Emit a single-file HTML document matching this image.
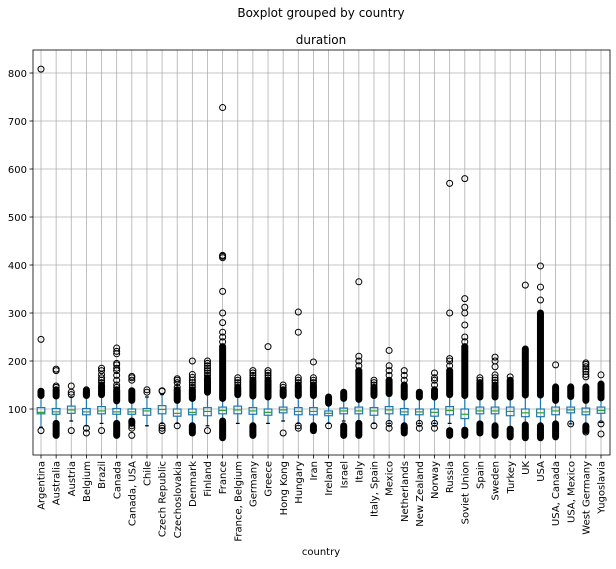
<!DOCTYPE html>
<html><head><meta charset="utf-8"><style>
body{margin:0;background:#fff;}
svg text{font-family:"DejaVu Sans","Liberation Sans",sans-serif;fill:#000;}
</style></head><body>
<svg id="chart" width="616" height="564" xmlns="http://www.w3.org/2000/svg">
<rect width="616" height="564" fill="#fff"/>
<text x="321" y="17" font-size="12" text-anchor="middle">Boxplot grouped by country</text>
<text x="321" y="44" font-size="12" text-anchor="middle">duration</text>
<text x="321" y="555" font-size="10" text-anchor="middle">country</text>
<g id="grid"></g><g id="marks"></g><g id="axes"></g>
</svg>
<script>
const categories=["Argentina","Australia","Austria","Belgium","Brazil","Canada","Canada, USA","Chile","Czech Republic","Czechoslovakia","Denmark","Finland","France","France, Belgium","Germany","Greece","Hong Kong","Hungary","Iran","Ireland","Israel","Italy","Italy, Spain","Mexico","Netherlands","New Zealand","Norway","Russia","Soviet Union","Spain","Sweden","Turkey","UK","USA","USA, Canada","USA, Mexico","West Germany","Yugoslavia"];
const q1 =[90,89,91,88,90,89,89,87,90,85,88,86,90,90,89,87,92,88,88,86,90,90,87,90,88,88,85,88,80,90,90,86,84,84,88,92,88,91];
const med=[93,94,98,94,96,94,94,96,99,91,93,95,97,98,96,93,98,95,95,91,96,96,96,98,94,94,93,97,89,96,96,95,92,92,96,98,94,97];
const q3 =[103,101,106,101,105,101,100,101,107,100,100,103,104,106,103,100,104,103,103,96,102,104,103,105,101,100,100,105,100,104,104,104,100,100,104,104,102,104];
const wlo=[62,70,75,65,70,72,75,65,70,70,70,65,75,70,70,70,75,70,70,70,75,75,70,70,70,70,70,70,60,72,70,62,68,68,72,69,68,72];
const whi=[127,125,125,125,128,115,115,125,130,115,120,130,120,125,125,120,125,125,125,110,120,118,125,130,120,120,120,128,125,122,122,122,126,126,116,124,116,120];
const fliers=[[808,245,55],[145,148,180,183],[130,135,148,55],[130,135,140,60,50],[155,160,165,172,180,185,55],[145,150,160,170,180,185,192,195,215,220,227],[160,165,168,45,60,65],[135,140],[137,138,55,60,65],[145,155,160,163,65],[145,150,155,160,166,172,200],[170,175,180,185,190,195,200,55],[240,250,260,280,300,345,415,418,420,728],[150,155,160,165],[165,170,175,180],[165,170,175,180,230],[145,150,50],[155,160,165,260,302,60,65],[155,160,165,198],[65],[],[190,200,210,365],[150,155,160,65],[170,180,190,222,60,70],[160,170,180,60],[60,70],[150,160,165,175,60,70],[190,200,205,300,570],[240,250,275,300,312,330,580],[160,165],[155,160,165,171,188,200,208],[167],[358],[327,354,398],[192],[69],[167,172,178,183,188,193,196,52],[171,69,48]];
const hiRange=[[128,137],[127,140],null,[128,138],[130,150],[117,140],[118,138],null,null,[118,140],[122,140],[135,165],[122,230],[130,145],[127,160],[125,160],[128,140],[128,150],[128,150],[112,125],[122,135],[120,180],[128,145],[132,160],[125,150],[125,135],[125,140],[130,180],[128,230],[125,155],[125,150],[125,160],[129,225],[129,300],[118,146],[126,146],[118,146],[123,152]];
const loRange=[null,[45,70],null,null,null,[45,70],[70,75],null,null,null,[50,65],null,[40,75],null,[45,65],null,null,null,[55,65],null,[45,65],[45,70],null,null,[50,65],null,null,[45,55],[45,56],[50,69],[45,65],[42,58],[40,67],[40,65],[42,69],null,[55,65],null];
const yTicks=[100,200,300,400,500,600,700,800];

const NS="http://www.w3.org/2000/svg";
const L=33,R=610,T=50,B=455;
const x0=41,step=(601-41)/(categories.length-1);
function xs(i){return x0+i*step;}
function ys(v){return 457-v*0.48;}
function mk(tag,attrs,parent){const e=document.createElementNS(NS,tag);for(const k in attrs)e.setAttribute(k,attrs[k]);parent.appendChild(e);return e;}
const grid=document.getElementById('grid'),marks=document.getElementById('marks'),axes=document.getElementById('axes');
yTicks.forEach(t=>{
 const y=ys(t);
 const g=mk('line',{x1:L,x2:R,y1:y,y2:y,stroke:'#b0b0b0','stroke-width':0.8},grid);
 
 
 const tk=mk('line',{x1:L-3.5,x2:L,y1:y,y2:y,stroke:'#000','stroke-width':0.8},axes);
 
 
 const tx=mk('text',{x:L-6,y:y+4,'font-size':10,'text-anchor':'end'},axes);
 tx.textContent=t;
 
 
});
categories.forEach((c,i)=>{
 const x=xs(i);
 const g=mk('line',{x1:x,x2:x,y1:T,y2:B,stroke:'#b0b0b0','stroke-width':0.8},grid);
 
 
 const grp=mk('g',{},marks);
 
 
 const bw=3.8,cw=1.9;
 mk('line',{x1:x,x2:x,y1:ys(q3[i]),y2:ys(whi[i]),stroke:'#1f77b4','stroke-width':1.2},grp);
 mk('line',{x1:x,x2:x,y1:ys(q1[i]),y2:ys(wlo[i]),stroke:'#1f77b4','stroke-width':1.2},grp);
 mk('line',{x1:x-cw,x2:x+cw,y1:ys(whi[i]),y2:ys(whi[i]),stroke:'#000','stroke-width':1.2},grp);
 mk('line',{x1:x-cw,x2:x+cw,y1:ys(wlo[i]),y2:ys(wlo[i]),stroke:'#000','stroke-width':1.2},grp);
 mk('rect',{x:x-bw,y:ys(q3[i]),width:2*bw,height:ys(q1[i])-ys(q3[i]),fill:'none',stroke:'#1f77b4','stroke-width':1.2},grp);
 mk('line',{x1:x-bw,x2:x+bw,y1:ys(med[i]),y2:ys(med[i]),stroke:'#2ca02c','stroke-width':1.2},grp);
 [hiRange[i],loRange[i]].forEach(r=>{ if(!r)return;
  const ln=mk('line',{x1:x,x2:x,y1:ys(r[0]),y2:ys(r[1]),stroke:'#000','stroke-width':7,'stroke-linecap':'round'},grp);
  
  
 });
 fliers[i].forEach(v=>{
  const ci=mk('circle',{cx:x,cy:ys(v),r:3,fill:'none',stroke:'#000','stroke-width':1},grp);
  
  
 });
 const tk=mk('line',{x1:x,x2:x,y1:B,y2:B+3.5,stroke:'#000','stroke-width':0.8},axes);
 
 
 const tx=mk('text',{x:0,y:0,'font-size':10,'text-anchor':'end',transform:`translate(${x+3.6},${B+6}) rotate(-90)`},axes);
 tx.textContent=c;
 
 
});
const fr=mk('rect',{x:L,y:T,width:R-L,height:B-T,fill:'none',stroke:'#000','stroke-width':0.8},axes);


</script>
</body></html>
